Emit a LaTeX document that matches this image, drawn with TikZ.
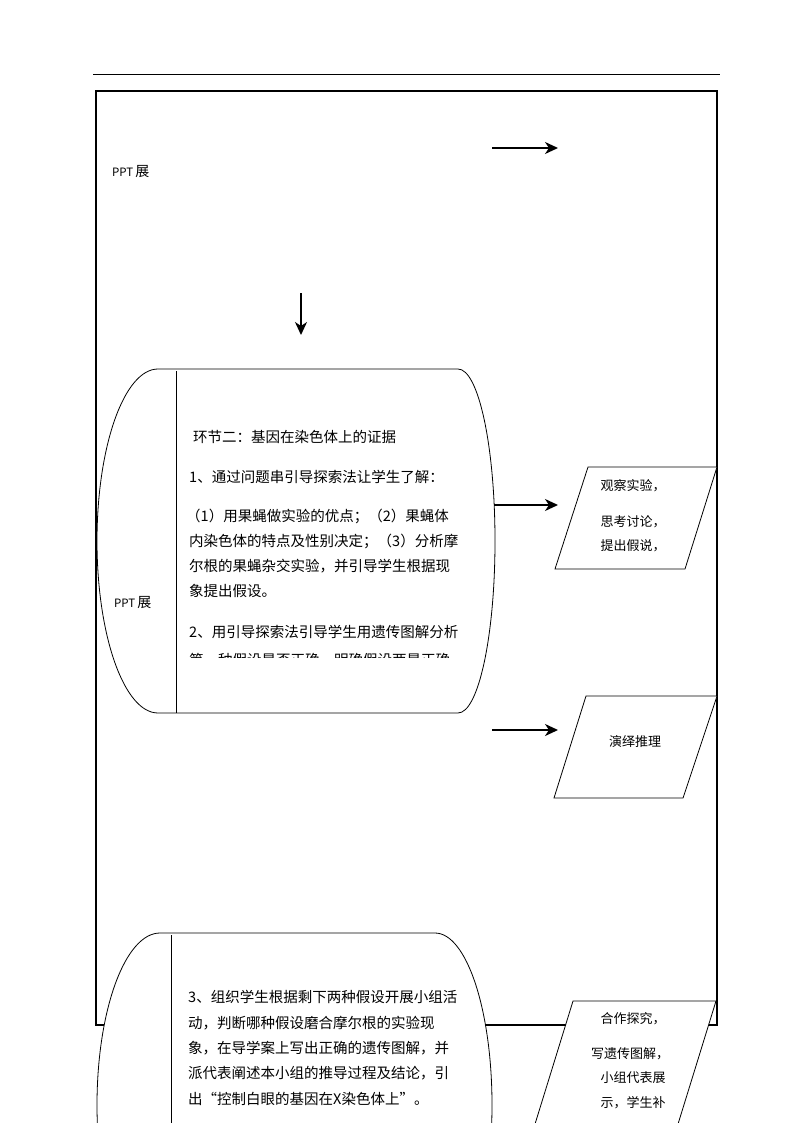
\documentclass[tikz,border=0pt]{standalone}
\usepackage{fontspec}
\setmainfont{Noto Sans CJK SC}
\usetikzlibrary{arrows.meta}
\begin{document}
\begin{tikzpicture}[x=1pt,y=-1pt,
  frame/.style={line width=1.6pt},
  shapeline/.style={line width=0.8pt,fill=white},
  arr/.style={line width=2pt,-{Stealth[length=13pt,width=12pt,inset=4pt]}},
  body/.style={anchor=west,inner sep=0pt,font=\fontsize{14.5}{16}\selectfont},
  small/.style={inner sep=0pt,font=\fontsize{11.5}{13}\selectfont},
  ptext/.style={inner sep=0pt,font=\fontsize{13}{15}\selectfont}]
\useasboundingbox (0,0) rectangle (794,1123);
% top rule
\draw[line width=1pt] (93,75) -- (720,75);
% outer frame
\draw[frame] (96,91) rectangle (717,1025);
% first PPT label
\node[small,anchor=west] (ppt1) at (112,172) {PPT\,{\fontsize{14}{15}\selectfont 展}};
% top arrows
\coordinate (a1s) at (492,148);
\coordinate (a1e) at (558,148);
\draw[arr] (a1s) -- (a1e);
\coordinate (d1s) at (301,293);
\coordinate (d1e) at (301,335);
\draw[arr] (d1s) -- (d1e);
% shape 1
\draw[shapeline] (458,369) -- (158,369) .. controls (124.3,369) and (97,446) .. (97,541)
  .. controls (97,636) and (124.3,713) .. (158,713) -- (458,713)
  .. controls (478.4,713) and (495,636) .. (495,541)
  .. controls (495,446) and (478.4,369) .. (458,369) -- cycle;
\draw[line width=0.8pt] (176,371) -- (176,713);
\node[small,anchor=west] (ppt2) at (114,603) {PPT\,{\fontsize{14}{15}\selectfont 展}};
\node[body] (t1) at (193,437) {环节二：基因在染色体上的证据};
\node[body] (t2) at (189,477) {1、通过问题串引导探索法让学生了解：};
\node[body] (t3) at (186,516) {（1）用果蝇做实验的优点；（2）果蝇体};
\node[body] (t4) at (189,541) {内染色体的特点及性别决定；（3）分析摩};
\node[body] (t5) at (189,566) {尔根的果蝇杂交实验，并引导学生根据现};
\node[body] (t6) at (189,591) {象提出假设。};
\node[body] (t7) at (189,632) {2、用引导探索法引导学生用遗传图解分析};
\begin{scope}
\clip (180,640) rectangle (480,657);
\node[body] (t8) at (189,660) {第一种假设是否正确，明确假设两是正确};
\end{scope}
% arrow to parallelogram 1
\coordinate (a2s) at (494,505);
\coordinate (a2e) at (558,505);
\draw[arr] (a2s) -- (a2e);
\draw[shapeline] (588,467) -- (717,467) -- (685,569) -- (555,569) -- cycle;
\node[ptext] (p1a) at (633,486) {观察实验，};
\node[ptext] (p1b) at (633,522) {思考讨论，};
\node[ptext] (p1c) at (633,546) {提出假说，};
% arrow to parallelogram 2
\coordinate (a3s) at (492,730);
\coordinate (a3e) at (558,730);
\draw[arr] (a3s) -- (a3e);
\draw[shapeline] (586,696) -- (717,696) -- (683,798) -- (554,798) -- cycle;
\node[ptext] (p2) at (635,742) {演绎推理};
% shape 2
\draw[shapeline] (435,933) -- (160,933) .. controls (125.2,933) and (97,1010) .. (97,1105)
  .. controls (97,1200) and (125.2,1277) .. (160,1277) -- (435,1277)
  .. controls (466.5,1277) and (492,1200) .. (492,1105)
  .. controls (492,1010) and (466.5,933) .. (435,933) -- cycle;
\draw[line width=0.8pt] (171,935) -- (171,1277);
\node[body] (s1) at (188,997) {3、组织学生根据剩下两种假设开展小组活};
\node[body] (s2) at (188,1023) {动，判断哪种假设磨合摩尔根的实验现};
\node[body] (s3) at (188,1048) {象，在导学案上写出正确的遗传图解，并};
\node[body] (s4) at (188,1073) {派代表阐述本小组的推导过程及结论，引};
\node[body] (s5) at (188,1099) {出“控制白眼的基因在X染色体上”。};
% parallelogram 3
\draw[shapeline] (573,1001) -- (716,1001) -- (670,1150) -- (527,1150) -- cycle;
\node[ptext] (p3a) at (633,1019) {合作探究，};
\node[ptext] (p3b) at (630,1054) {写遗传图解，};
\node[ptext] (p3c) at (633,1078) {小组代表展};
\node[ptext] (p3d) at (633,1103) {示，学生补};
\end{tikzpicture}
\end{document}
